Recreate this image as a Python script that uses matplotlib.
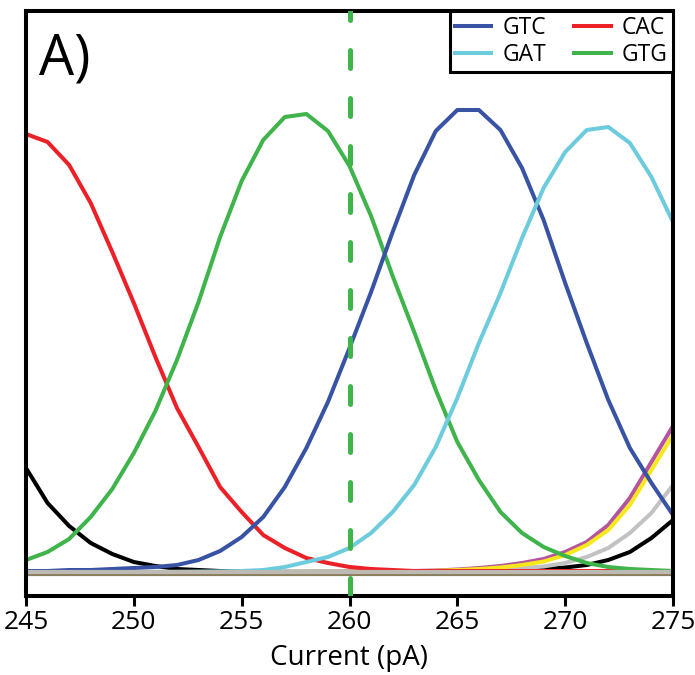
import numpy as np
import matplotlib
matplotlib.use("Agg")
import matplotlib.pyplot as plt
import matplotlib.patheffects as pe

plt.rcParams["font.family"] = ["Open Sans", "DejaVu Sans"]

# current axis (pA), one point per integer value
current = np.arange(245, 276)

# model densities (arbitrary units)
cac = [438, 430, 407, 369, 320, 269, 215, 164, 125, 85, 60, 37, 24, 14, 9, 5,
       3, 2, 1, 1, 1, 1, 1, 1, 1, 1, 1, 1, 1, 1, 1]
gtg = [12, 20, 33, 55, 83, 119, 161, 212, 270, 335, 391, 432, 455, 458, 441, 406,
       356, 296, 240, 182, 130, 92, 60, 39, 25, 16, 9, 5, 3, 2, 1]
gtc = [1, 1, 2, 2, 3, 4, 5, 7, 12, 21, 35, 55, 85, 124, 170, 224,
       280, 340, 397, 441, 462, 462, 442, 404, 352, 289, 229, 172, 124, 89, 57]
gat = [0, 0, 0, 0, 0, 0, 0.1, 0.2, 0.4, 0.6, 1, 2, 5, 10, 15, 24,
       39, 60, 87, 125, 174, 229, 279, 334, 384, 420, 442, 445, 429, 395, 350]
black = [104, 69, 46, 29, 18, 10, 6, 3, 2, 1, 0.5, 0.3, 0.2, 0.2, 0.2, 0.2,
         0.2, 0.2, 0.3, 0.4, 0.6, 0.8, 1.2, 2, 3, 4.5, 7, 12, 20, 34, 52]
gray = [0, 0, 0, 0, 0, 0, 0, 0, 0, 0, 0, 0, 0, 0, 0.1, 0.1,
        0.2, 0.3, 0.5, 1, 1.5, 2, 3, 4, 5.5, 9, 15, 24, 39, 59, 87]
yellow = [0, 0, 0, 0, 0, 0, 0, 0, 0, 0, 0, 0, 0, 0.1, 0.1, 0.2,
          0.3, 0.5, 0.8, 1.2, 2, 3, 4.5, 7, 10.5, 17, 27, 42, 67, 102, 137]
purple = [0, 0, 0, 0, 0, 0, 0, 0, 0, 0, 0, 0, 0, 0.1, 0.2, 0.3,
          0.5, 0.7, 1, 1.5, 2.5, 4, 6, 9, 13, 20, 30, 47, 74, 110, 146]
other = [0] * len(current)

marker_current = 260

fig = plt.figure(figsize=(6.95, 6.75), dpi=100)
ax = fig.add_axes([26 / 695, 79 / 675, 647 / 695, 585 / 675])

lw = 2.9
ax.plot(current, black, color="black", lw=lw)
ax.plot(current, gray, color="#c2c2c2", lw=lw)
ax.plot(current, purple, color="#b5539c", lw=lw)
ax.plot(current, yellow, color="#f7e81c", lw=lw)
ax.plot(current, cac, color="#ec2027", lw=lw, label="CAC")
ax.plot(current, gtg, color="#3fb44b", lw=lw, label="GTG")
ax.plot(current, gtc, color="#3953a4", lw=lw, label="GTC")
ax.plot(current, gat, color="#6dcbde", lw=lw, label="GAT")
ax.plot(current, other, color="#bdbab3", lw=3.0,
        path_effects=[pe.SimpleLineShadow(offset=(0, -1.2), shadow_color="#7d6f4a",
                                          alpha=0.9, rho=1.0), pe.Normal()])

ymin, ymax = -24, 561
ax.plot([marker_current, marker_current], [ymax, ymin], color="#3fb44b", lw=3.6,
        linestyle=(1.8, (3.6, 6.0)), dash_capstyle="round", zorder=5)

ax.set_xlim(245, 275)
ax.set_ylim(ymin, ymax)
ax.set_xticks(np.arange(245, 276, 5))
ax.set_yticks([])
ax.tick_params(axis="x", direction="out", length=7.2, width=2.2, labelsize=19, pad=3)
for s in ax.spines.values():
    s.set_linewidth(2.9)
ax.set_xlabel("Current (pA)", fontsize=20, labelpad=6)

ax.text(0.02, 0.965, "A)", transform=ax.transAxes, fontsize=40, va="top", ha="left")

handles, labels = ax.get_legend_handles_labels()
order = [labels.index(k) for k in ["GTC", "GAT", "CAC", "GTG"]]
leg = ax.legend([handles[i] for i in order], [labels[i] for i in order],
                ncol=2, loc="upper right", bbox_to_anchor=(1.0, 1.0),
                borderaxespad=0, fancybox=False, framealpha=1, edgecolor="black",
                fontsize=16.5, handlelength=1.6, handletextpad=0.5, columnspacing=1.2,
                labelspacing=0.12, borderpad=0.22)
leg.get_frame().set_linewidth(2.2)

fig.savefig("out.png", dpi=100)
